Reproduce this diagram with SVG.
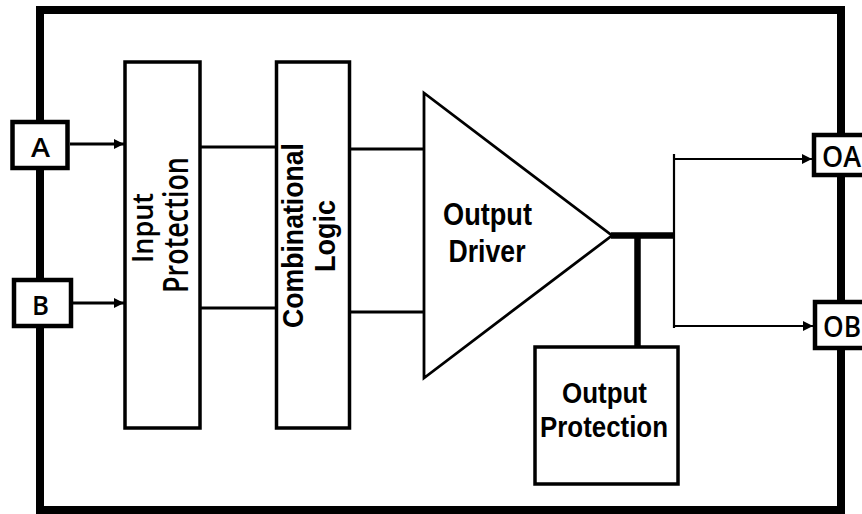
<svg xmlns="http://www.w3.org/2000/svg" width="862" height="514" viewBox="0 0 862 514">
<defs>
<marker id="arr" viewBox="0 0 10 10" refX="10" refY="5" markerWidth="10" markerHeight="10" markerUnits="userSpaceOnUse" orient="auto">
<path d="M0,0 L10,5 L0,10 z" fill="#000"/>
</marker>
</defs>
<style>
.box{fill:#fff;stroke:#000;stroke-width:3.5}
.pin{fill:#fff;stroke:#000;stroke-width:4.5}
.ln{fill:none;stroke:#000;stroke-width:3}
.thin{fill:none;stroke:#000;stroke-width:2.2}
.thick{fill:none;stroke:#000;stroke-width:6.5}
.nb{font-family:"Liberation Sans Narrow","Liberation Sans",Arial,sans-serif;font-weight:bold;fill:#000}
.cal{font-family:"Open Sans",Lato,sans-serif;font-weight:600;fill:#000}
</style>
<rect width="862" height="514" fill="#fff"/>
<g id="frame">
<rect x="40" y="10" width="801" height="500" fill="none" stroke="#000" stroke-width="8"/>
</g>
<g id="connectors">
<line class="ln" x1="70" y1="144" x2="124" y2="144" marker-end="url(#arr)"/>
<line class="ln" x1="72" y1="303" x2="124" y2="303" marker-end="url(#arr)"/>
<line class="ln" x1="200" y1="147" x2="277" y2="147"/>
<line class="ln" x1="200" y1="308" x2="277" y2="308"/>
<line class="ln" x1="350" y1="149" x2="424" y2="149"/>
<line class="ln" x1="350" y1="312" x2="424" y2="312"/>
<line class="thick" x1="611" y1="235.5" x2="674" y2="235.5"/>
<line class="thick" x1="637.5" y1="235" x2="637.5" y2="347"/>
<line class="thin" x1="674" y1="154" x2="674" y2="328"/>
<line class="thin" x1="674" y1="159" x2="812" y2="159" marker-end="url(#arr)"/>
<line class="thin" x1="674" y1="326" x2="813" y2="326" marker-end="url(#arr)"/>
</g>
<g id="pin-A">
<rect class="pin" x="12.5" y="122" width="55" height="46"/>
<text class="cal" x="40.5" y="157" font-size="27" text-anchor="middle" textLength="19" lengthAdjust="spacingAndGlyphs">A</text>
</g>
<g id="pin-B">
<rect class="pin" x="14" y="280" width="57" height="46"/>
<text class="cal" x="40.5" y="315" font-size="27" text-anchor="middle" textLength="17" lengthAdjust="spacingAndGlyphs">B</text>
</g>
<g id="input-protection">
<rect class="box" x="125" y="62" width="75" height="366"/>
<text class="cal" transform="translate(153,228) rotate(-90)" font-size="28" text-anchor="middle" textLength="70" lengthAdjust="spacingAndGlyphs">Input</text>
<text class="cal" transform="translate(188,225) rotate(-90)" font-size="35" text-anchor="middle" textLength="136" lengthAdjust="spacingAndGlyphs">Protection</text>
</g>
<g id="combinational-logic">
<rect class="box" x="276.5" y="62" width="73" height="366"/>
<text class="nb" transform="translate(303,235.5) rotate(-90)" font-size="30" text-anchor="middle" textLength="185" lengthAdjust="spacingAndGlyphs">Combinational</text>
<text class="nb" transform="translate(335,236) rotate(-90)" font-size="30" text-anchor="middle" textLength="72" lengthAdjust="spacingAndGlyphs">Logic</text>
</g>
<g id="output-driver">
<path d="M424,93 L424,378 L612,235.5 Z" fill="#fff" stroke="#000" stroke-width="2.8" stroke-linejoin="miter"/>
<text class="nb" x="487.5" y="225" font-size="32" text-anchor="middle" textLength="89" lengthAdjust="spacingAndGlyphs">Output</text>
<text class="nb" x="487" y="262" font-size="32" text-anchor="middle" textLength="77" lengthAdjust="spacingAndGlyphs">Driver</text>
</g>
<g id="output-protection">
<rect class="box" x="535" y="347" width="143" height="137"/>
<text class="nb" x="604.5" y="403" font-size="29" text-anchor="middle" textLength="85" lengthAdjust="spacingAndGlyphs">Output</text>
<text class="nb" x="604" y="437" font-size="29" text-anchor="middle" textLength="128" lengthAdjust="spacingAndGlyphs">Protection</text>
</g>
<g id="pin-OA">
<rect class="pin" x="814" y="135" width="60" height="40"/>
<text class="cal" x="822" y="167" font-size="29" textLength="39" lengthAdjust="spacingAndGlyphs">OA</text>
</g>
<g id="pin-OB">
<rect class="pin" x="815" y="302" width="60" height="46"/>
<text class="cal" x="823" y="337" font-size="29" textLength="38" lengthAdjust="spacingAndGlyphs">OB</text>
</g>
</svg>
